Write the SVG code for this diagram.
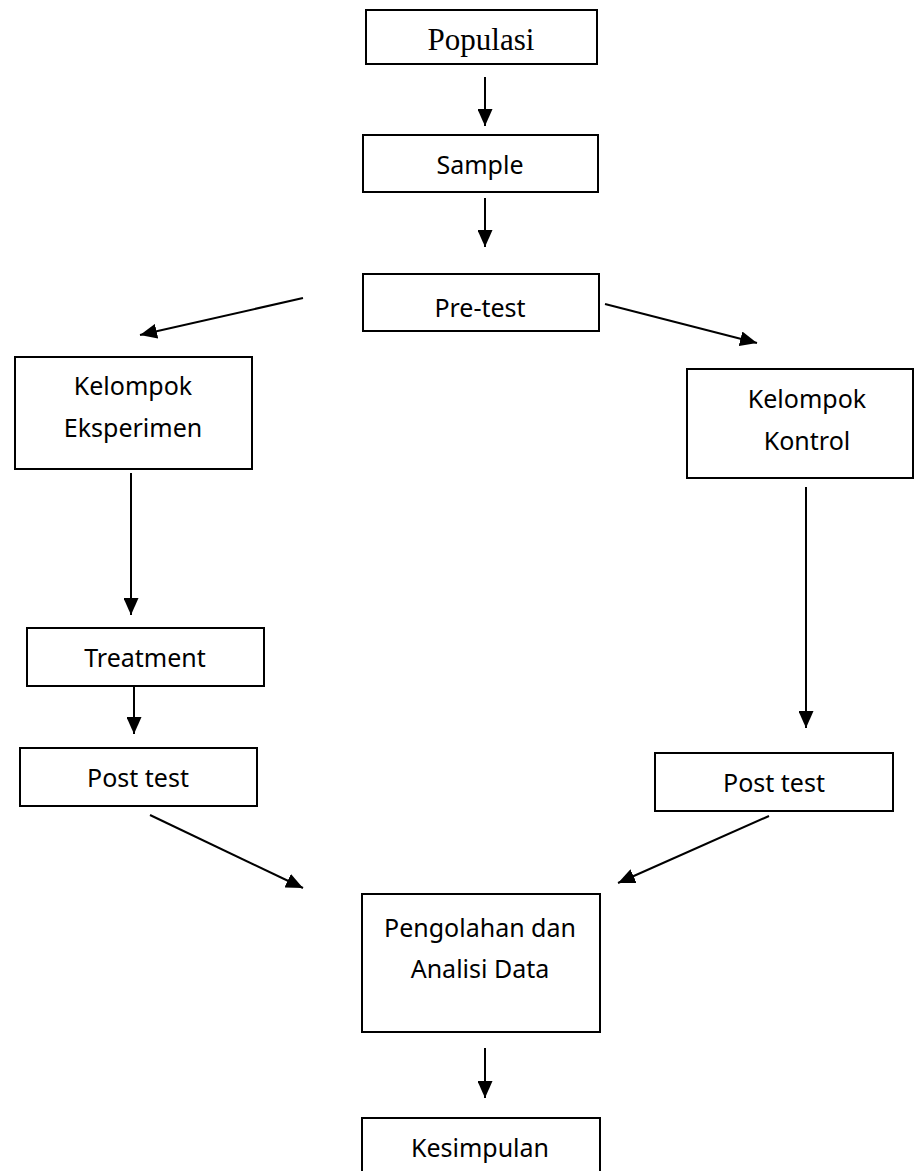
<svg xmlns="http://www.w3.org/2000/svg" width="915" height="1171" viewBox="0 0 915 1171">
<style>
.box{fill:#fff;stroke:#000;stroke-width:2}
.t{font-family:"Noto Sans","Liberation Sans",sans-serif;font-size:25px;fill:#000;text-anchor:middle}
.ts{font-family:"Liberation Serif","Times New Roman",serif;font-size:31px;fill:#000;text-anchor:middle}
.c{stroke:#000;stroke-width:2;fill:none;marker-end:url(#ah)}
</style>
<defs>
<marker id="ah" markerUnits="userSpaceOnUse" markerWidth="17" markerHeight="15" refX="17" refY="7.5" orient="auto">
<path d="M0,0 L17,7.5 L0,15 Z" fill="#000"/>
</marker>
</defs>
<rect width="915" height="1171" fill="#fff"/>
<g id="connectors">
<line class="c" x1="485" y1="77" x2="485" y2="126"/>
<line class="c" x1="485" y1="198" x2="485" y2="247"/>
<line class="c" x1="303" y1="298" x2="140" y2="335"/>
<line class="c" x1="605" y1="304" x2="757" y2="343"/>
<line class="c" x1="131" y1="473" x2="131" y2="615"/>
<line class="c" x1="134" y1="686" x2="134" y2="734"/>
<line class="c" x1="806" y1="487" x2="806" y2="728"/>
<line class="c" x1="150" y1="815" x2="303" y2="888"/>
<line class="c" x1="769" y1="816" x2="618" y2="883"/>
<line class="c" x1="485" y1="1048" x2="485" y2="1098"/>
</g>
<g id="populasi"><rect class="box" x="366" y="10" width="231" height="54"/><text class="ts" x="481" y="50">Populasi</text></g>
<g id="sample"><rect class="box" x="363" y="135" width="235" height="57"/><text class="t" x="480" y="174">Sample</text></g>
<g id="pretest"><rect class="box" x="363" y="274" width="236" height="57"/><text class="t" x="480" y="317">Pre-test</text></g>
<g id="eksperimen"><rect class="box" x="15" y="357" width="237" height="112"/><text class="t" x="133" y="395">Kelompok</text><text class="t" x="133" y="437">Eksperimen</text></g>
<g id="kontrol"><rect class="box" x="687" y="369" width="226" height="109"/><text class="t" x="807" y="408">Kelompok</text><text class="t" x="807" y="450">Kontrol</text></g>
<g id="treatment"><rect class="box" x="27" y="628" width="237" height="58"/><text class="t" x="145" y="667">Treatment</text></g>
<g id="posttest-left"><rect class="box" x="20" y="748" width="237" height="58"/><text class="t" x="138" y="787">Post test</text></g>
<g id="posttest-right"><rect class="box" x="655" y="753" width="238" height="58"/><text class="t" x="774" y="792">Post test</text></g>
<g id="pengolahan"><rect class="box" x="362" y="894" width="238" height="138"/><text class="t" x="480" y="937">Pengolahan dan</text><text class="t" x="480" y="978">Analisi Data</text></g>
<g id="kesimpulan"><rect class="box" x="362" y="1118" width="238" height="60"/><text class="t" x="480" y="1157">Kesimpulan</text></g>
</svg>
